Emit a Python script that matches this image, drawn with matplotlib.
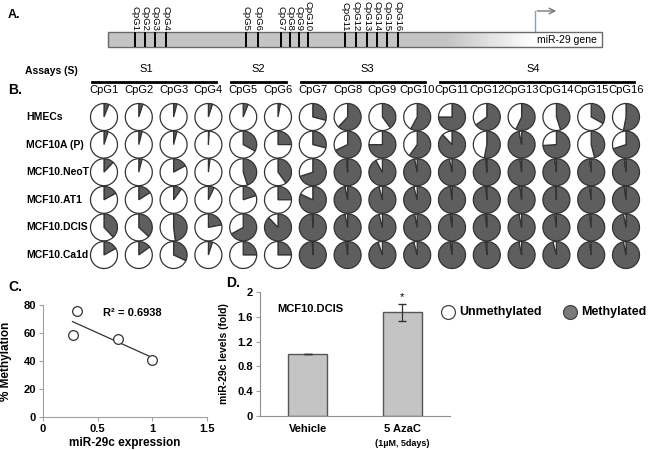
import numpy as np
import matplotlib
matplotlib.use("Agg")
import matplotlib.pyplot as plt
from matplotlib.patches import Rectangle
from matplotlib.colors import LinearSegmentedColormap

plt.rcParams["font.family"] = ["Liberation Sans", "DejaVu Sans"]

# --- data ---
cpg_labels = ["CpG%d" % i for i in range(1, 17)]
cpg_sites = [135, 145, 155, 166, 246, 258, 281, 290, 299, 308, 345, 356, 367, 377, 387, 398]
assays = ["S1", "S2", "S3", "S4"]
assay_cols = [(0, 3), (4, 5), (6, 9), (10, 15)]
assay_label_x = [146, 258, 367, 533]

cell_lines = ["HMECs", "MCF10A (P)", "MCF10.NeoT", "MCF10.AT1", "MCF10.DCIS", "MCF10.Ca1d"]
# methylated fraction per CpG
hmec = [0.06, 0.05, 0.04, 0.05, 0.06, 0.03, 0.29, 0.62, 0.40, 0.58, 0.75, 0.65, 0.57, 0.45, 0.33, 0.53]
mcf10a = [0.05, 0.04, 0.04, 0.01, 0.33, 0.25, 0.29, 0.68, 0.75, 0.60, 0.88, 0.53, 0.97, 0.74, 0.46, 0.70]
neot = [0.12, 0.04, 0.17, 0.02, 0.45, 0.40, 0.70, 0.99, 0.92, 0.97, 0.97, 0.99, 0.98, 0.98, 0.98, 0.98]
at1 = [0.17, 0.16, 0.10, 0.07, 0.20, 0.25, 0.82, 0.97, 0.96, 0.96, 0.98, 0.99, 0.98, 0.995, 0.98, 0.98]
dcis = [0.38, 0.37, 0.48, 0.22, 0.67, 0.88, 0.995, 0.97, 0.96, 0.97, 0.98, 0.98, 0.97, 0.98, 0.98, 0.97]
ca1d = [0.17, 0.15, 0.32, 0.05, 0.25, 0.25, 0.995, 0.98, 0.95, 0.96, 0.98, 0.99, 0.97, 0.96, 0.98, 0.97]
meth = [hmec, mcf10a, neot, at1, dcis, ca1d]

expr = [0.27, 0.31, 0.69, 1.0]
pct_meth = [58.5, 76, 55.5, 40.7]

treatments = ["Vehicle", "5 AzaC"]
fold = [1.0, 1.67]
fold_err = [0.0, 0.13]

gray = "#5e5e5e"
bar_gray = "#c4c4c4"

fig = plt.figure(figsize=(6.5, 4.5), dpi=100)

# --- C: scatter ---
axc = fig.add_axes([43 / 650, 33 / 450, 164 / 650, 112 / 450])
a, b = np.polyfit(expr, pct_meth, 1)
xx = np.array([min(expr), max(expr)])
axc.plot(xx, a * xx + b, color="#333333", lw=0.9)
axc.plot(expr, pct_meth, "o", mfc="white", mec="#333333", ms=7, mew=0.9)
axc.set_xlim(0, 1.5)
axc.set_ylim(0, 80)
axc.set_xticks([0, 0.5, 1, 1.5])
axc.set_xticklabels(["0", "0.5", "1", "1.5"])
axc.set_yticks([0, 20, 40, 60, 80])
axc.text(0.55, 74, "R² = 0.6938", fontsize=8, fontweight="bold", va="center")
axc.set_xlabel("miR-29c expression", fontsize=8.5, fontweight="bold", labelpad=2)
axc.set_ylabel("% Methylation", fontsize=8.5, fontweight="bold", labelpad=8)
for s in ["top", "right"]:
    axc.spines[s].set_visible(False)
for s in ["left", "bottom"]:
    axc.spines[s].set_color("#a0a0a0")
axc.tick_params(labelsize=8, length=3, color="#a0a0a0", pad=2)
for t in axc.get_xticklabels() + axc.get_yticklabels():
    t.set_fontweight("bold")
axc.set_facecolor("none")

# --- D: bars ---
axd = fig.add_axes([260 / 650, 34 / 450, 190 / 650, 124 / 450])
pos = np.arange(len(treatments))
axd.bar(pos, fold, width=0.415, color=bar_gray, edgecolor="#555555", lw=1,
        yerr=fold_err, capsize=3, error_kw=dict(ecolor="#333333", elinewidth=0.9))
axd.text(pos[1], fold[1] + fold_err[1] + 0.03, "*", ha="center", va="bottom", fontsize=8)
axd.set_xlim(-0.51, 1.51)
axd.set_ylim(0, 2)
axd.set_yticks([0, 0.4, 0.8, 1.2, 1.6, 2])
axd.set_yticklabels(["0", "0.4", "0.8", "1.2", "1.6", "2"])
axd.set_xticks(pos)
axd.set_xticklabels(treatments)
axd.tick_params(axis="x", length=0, pad=6, labelsize=8)
axd.tick_params(axis="y", length=3, labelsize=8, color="#a0a0a0", pad=2)
for t in axd.get_xticklabels() + axd.get_yticklabels():
    t.set_fontweight("bold")
axd.text(pos[1], -28 / 124, "(1µM, 5days)", transform=axd.get_xaxis_transform(),
         ha="center", va="center", fontsize=6.5, fontweight="bold")
axd.set_ylabel("miR-29c levels (fold)", fontsize=7.5, fontweight="bold", labelpad=6)
for s in ["top", "right"]:
    axd.spines[s].set_visible(False)
for s in ["left", "bottom"]:
    axd.spines[s].set_color("#909090")
axd.set_facecolor("none")

# --- overlay in pixel coordinates (A, B, labels, legend) ---
ax = fig.add_axes([0, 0, 1, 1])


def Y(y):
    return 450 - y


# A. gene diagram
ax.add_patch(Rectangle((108, Y(47)), 337, 15, fc=bar_gray, ec="none"))
cmap = LinearSegmentedColormap.from_list("g", [bar_gray, "white"])
ax.imshow(np.linspace(0, 1, 100)[None, :], cmap=cmap, aspect="auto",
          extent=[445, 535, Y(47), Y(32)], zorder=1)
ax.add_patch(Rectangle((108, Y(47)), 494, 15, fill=False, ec="#6a6a6a", lw=1, zorder=3))
ax.vlines(cpg_sites, Y(47), Y(32), color="black", lw=1.4, zorder=4)
for x, lab in zip(cpg_sites, cpg_labels):
    ax.text(x, Y(31), lab, rotation=270, ha="center", va="bottom", fontsize=6.8)
ax.plot([535, 535], [Y(32), Y(11)], color="#7fa0c8", lw=1)
ax.annotate("", xy=(559, Y(11)), xytext=(534.5, Y(11)),
            arrowprops=dict(arrowstyle="->", color="#777777", lw=1))
ax.text(537, Y(40), "miR-29 gene", fontsize=7.5, va="center")
ax.text(8, Y(15), "A.", fontsize=9, fontweight="bold", va="center")
ax.text(25, Y(71), "Assays (S)", fontsize=7.5, fontweight="bold", va="center")
for x, lab in zip(assay_label_x, assays):
    ax.text(x, Y(69), lab, fontsize=8, ha="center", va="center")

# B. pie grid
col_x = 104 + 34.8 * np.arange(16)
row_y = 117 + 27.6 * np.arange(6)
ax.text(8, Y(90), "B.", fontsize=10, fontweight="bold", va="center")
for (c0, c1) in assay_cols:
    ax.plot([col_x[c0] - 12, col_x[c1] + 8], [Y(82), Y(82)], color="black", lw=2)
for x, lab in zip(col_x, cpg_labels):
    ax.text(x, Y(90), lab, fontsize=8, ha="center", va="center")
for r, name in enumerate(cell_lines):
    ax.text(26, Y(row_y[r]), name, fontsize=7.5, fontweight="bold", va="center")
    for c in range(16):
        m = meth[r][c]
        ax.pie([m, 1 - m], colors=[gray, "white"], startangle=90, counterclock=False,
               center=(col_x[c], Y(row_y[r])), radius=13.5,
               wedgeprops=dict(edgecolor="#333333", linewidth=0.9))

# panel letters and legend
ax.text(8, Y(287), "C.", fontsize=10, fontweight="bold", va="center")
ax.text(226, Y(283), "D.", fontsize=10, fontweight="bold", va="center")
ax.text(277, Y(309), "MCF10.DCIS", fontsize=8, fontweight="bold", va="center")
ax.plot([448], [Y(312)], "o", ms=10, mfc="white", mec="#444444", mew=0.9)
ax.text(459, Y(312), "Unmethylated", fontsize=9, fontweight="bold", va="center")
ax.plot([570], [Y(312)], "o", ms=10, mfc="#7a7a7a", mec="#444444", mew=0.9)
ax.text(581, Y(312), "Methylated", fontsize=9, fontweight="bold", va="center")

ax.set_xlim(0, 650)
ax.set_ylim(0, 450)
ax.set_aspect("auto")
ax.axis("off")

fig.savefig("out.png", dpi=100)
